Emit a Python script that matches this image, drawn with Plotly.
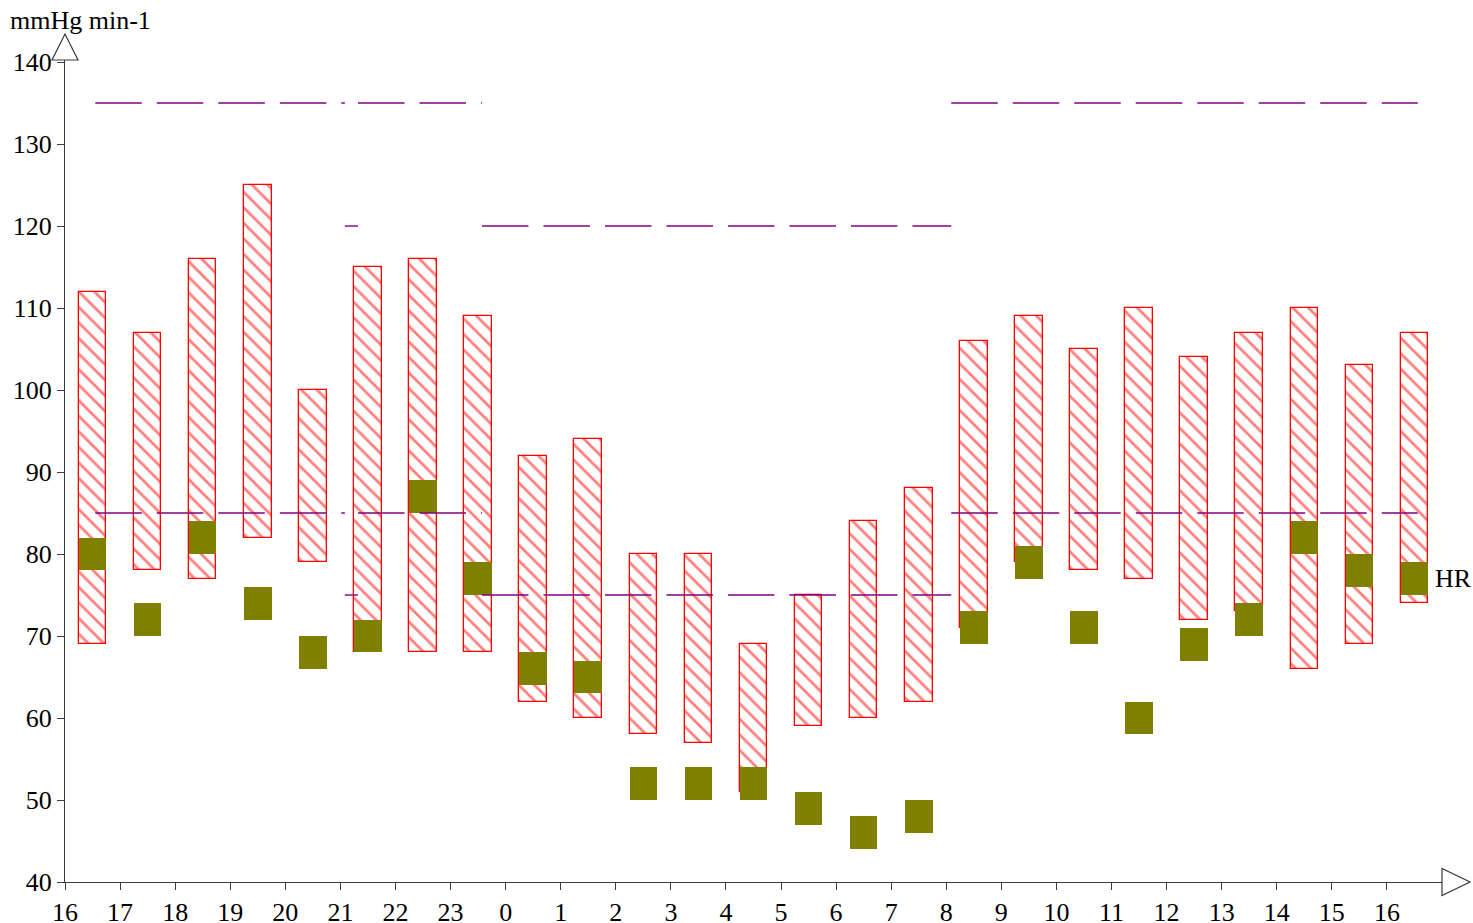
import plotly.graph_objects as go

# ---- data ----
tick_labels = ["16", "17", "18", "19", "20", "21", "22", "23", "0", "1", "2", "3", "4",
               "5", "6", "7", "8", "9", "10", "11", "12", "13", "14", "15", "16"]
hour_pos = list(range(25))                      # hours since 16:00
bar_pos = [h + 0.5 for h in range(25)]          # half-hour centres of each measurement hour

systolic = [112, 107, 116, 125, 100, 115, 116, 109, 92, 94, 80, 80, 69,
            75, 84, 88, 106, 109, 105, 110, 104, 107, 110, 103, 107]
diastolic = [69, 78, 77, 82, 79, 68, 68, 68, 62, 60, 58, 57, 51,
             59, 60, 62, 71, 79, 78, 77, 72, 73, 66, 69, 74]
heart_rate = [80, 72, 82, 74, 68, 70, 87, 77, 66, 65, 52, 52, 52,
              49, 46, 48, 71, 79, 71, 60, 69, 72, 82, 78, 77]

thr_start = [0.55, 5.08, 5.32, 7.57, 16.09]
thr_end = [5.08, 5.32, 7.57, 16.09, 24.56]
thr_sys = [135, 120, 135, 120, 135]
thr_dia = [85, 75, 85, 75, 85]

y_ticks = [40, 50, 60, 70, 80, 90, 100, 110, 120, 130, 140]

# ---- styles ----
FONT = "Liberation Serif, Times New Roman, serif"
FS = 26
AXIS_COLOR = "#3a3a3a"
HR_HALF = 2.0

fig = go.Figure()

fig.add_trace(go.Bar(
    x=bar_pos, base=diastolic,
    y=[s - d for s, d in zip(systolic, diastolic)],
    width=0.5,
    marker=dict(color="white",
                line=dict(color="#ff0000", width=1.3),
                pattern=dict(shape="\\", fgcolor="#ff0000", bgcolor="white",
                             size=11, solidity=0.25, fillmode="overlay")),
    showlegend=False, hoverinfo="skip"))

fig.add_trace(go.Bar(
    x=bar_pos, base=[h - HR_HALF for h in heart_rate],
    y=[2 * HR_HALF] * len(heart_rate),
    width=0.5,
    marker=dict(color="#808000", line=dict(width=0)),
    showlegend=False, hoverinfo="skip"))

for xs, xe, ys, yd in zip(thr_start, thr_end, thr_sys, thr_dia):
    for yv in (ys, yd):
        fig.add_trace(go.Scatter(
            x=[xs, xe], y=[yv, yv], mode="lines",
            line=dict(color="#800080", width=1.4, dash="46.5px,15px"),
            showlegend=False, hoverinfo="skip"))

fig.update_layout(
    width=1473, height=923,
    margin=dict(l=65, r=31, t=60, b=41),
    plot_bgcolor="white", paper_bgcolor="white",
    barmode="overlay", bargap=0,
    font=dict(family=FONT, size=FS, color="black"),
    showlegend=False,
)

fig.update_xaxes(
    range=[0, 25], tickvals=hour_pos, ticktext=tick_labels,
    showline=True, linecolor=AXIS_COLOR, linewidth=1.3,
    ticks="outside", ticklen=7, tickwidth=1.3, tickcolor=AXIS_COLOR,
    showgrid=False, zeroline=False, automargin=False,
    tickfont=dict(family=FONT, size=FS, color="black"))

fig.update_yaxes(
    range=[40, 140.25], tickvals=y_ticks,
    showline=True, linecolor=AXIS_COLOR, linewidth=1.3,
    ticks="outside", ticklen=7, tickwidth=1.3, tickcolor=AXIS_COLOR,
    showgrid=False, zeroline=False, automargin=False,
    tickfont=dict(family=FONT, size=FS, color="black"))

# axis arrowheads (open triangles)
fig.add_shape(type="path", xref="paper", yref="paper",
              xsizemode="pixel", ysizemode="pixel", xanchor=0, yanchor=1,
              path="M -13,0 L 13,0 L 0,26 Z",
              line=dict(color=AXIS_COLOR, width=1.2), fillcolor="white")
fig.add_shape(type="path", xref="paper", yref="paper",
              xsizemode="pixel", ysizemode="pixel", xanchor=1, yanchor=0,
              path="M 0,-13.5 L 0,13.5 L 28,0 Z",
              line=dict(color=AXIS_COLOR, width=1.2), fillcolor="white")

fig.add_annotation(text="mmHg min-1", xref="paper", yref="paper",
                   x=0, y=1, xanchor="left", yanchor="middle",
                   xshift=-57, yshift=40, showarrow=False,
                   font=dict(family=FONT, size=FS, color="black"))
fig.add_annotation(text="HR", xref="x", yref="y",
                   x=24.84, y=heart_rate[-1], xanchor="left", yanchor="middle",
                   showarrow=False,
                   font=dict(family=FONT, size=FS, color="black"))

fig.write_html(
    "out.html",
    config={"displayModeBar": False},
    post_script="document.body.style.margin='0';document.body.style.padding='0';"
                "document.body.style.overflow='hidden';",
)
